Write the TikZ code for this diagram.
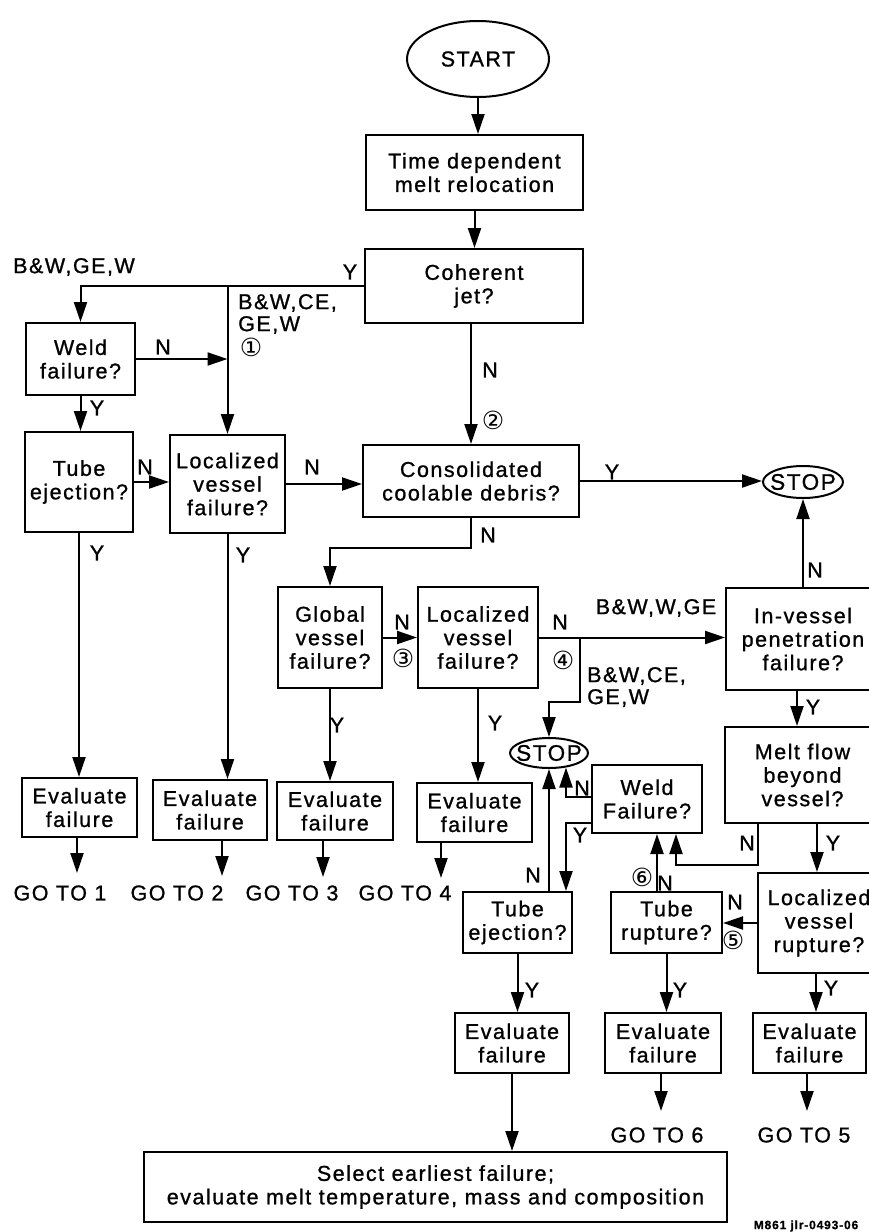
\documentclass[tikz,border=0pt]{standalone}
\usepackage{fontspec}
\setmainfont{Liberation Sans}[LetterSpace=7,FakeBold=1]
\newfontfamily\circfont{DejaVu Sans}
\usetikzlibrary{arrows.meta,shapes.geometric,calc}
\begin{document}
\begin{tikzpicture}[x=1pt,y=-1pt,
  every node/.style={font=\fontsize{21.5}{23.5}\selectfont, inner sep=0pt},
  box/.style={draw, rectangle, line width=2pt, align=center},
  term/.style={draw, ellipse, line width=2pt, inner sep=0pt},
  arr/.style={line width=2pt, -{Triangle[length=20pt,width=13pt]}},
  circ/.style={font=\circfont\fontsize{25}{25}\selectfont},
  tag/.style={font=\fontsize{12}{14}\selectfont\bfseries}
]
\fill[white] (0,0) rectangle (868,1232);
\useasboundingbox (0,0) rectangle (868,1232);

% ---------- nodes ----------
\node[term, minimum width=142pt, minimum height=76pt] (start) at (478,59) {START};
\node[box, minimum width=217pt, minimum height=75pt] (time) at (474.5,172.5) {Time dependent\\melt relocation};
\node[box, minimum width=218pt, minimum height=74pt] (coh) at (474,286) {Coherent\\jet?};
\node[box, minimum width=109pt, minimum height=72pt] (weld1) at (80.5,359) {Weld\\failure?};
\node[box, minimum width=108pt, minimum height=100pt] (tube1) at (79,482) {Tube\\ejection?};
\node[box, minimum width=115pt, minimum height=98pt] (loc1) at (227.5,484) {Localized\\vessel\\failure?};
\node[box, minimum width=216pt, minimum height=72pt] (cons) at (471,481) {Consolidated\\coolable debris?};
\node[term, minimum width=80pt, minimum height=32pt, font=\fontsize{22.5}{24}\selectfont] (stop1) at (803,482) {\makebox[0pt]{STOP}};
\node[box, minimum width=104pt, minimum height=101pt] (glob) at (330,637.5) {Global\\vessel\\failure?};
\node[box, minimum width=120pt, minimum height=101pt] (loc2) at (478,637.5) {Localized\\vessel\\failure?};
\node[box, minimum width=154pt, minimum height=102pt] (inv) at (803,639) {In-vessel\\penetration\\failure?};
\node[term, minimum width=78pt, minimum height=30pt, font=\fontsize{22.5}{24}\selectfont] (stop2) at (549,753) {\makebox[0pt]{STOP}};
\node[box, minimum width=155pt, minimum height=96pt] (melt) at (802.5,775) {Melt flow\\beyond\\vessel?};
\node[box, minimum width=110pt, minimum height=68pt] (weld2) at (647,799) {Weld\\Failure?};
\node[box, minimum width=109pt, minimum height=61pt] (tube2) at (517.5,922.5) {Tube\\ejection?};
\node[box, minimum width=111pt, minimum height=61pt] (trup) at (666.5,922.5) {Tube\\rupture?};
\node[box, minimum width=122pt, minimum height=100pt] (loc3) at (819,923) {Localized\\vessel\\rupture?};
\node[box, minimum width=115pt, minimum height=59pt] (ev1) at (79.5,807.5) {Evaluate\\failure};
\node[box, minimum width=114pt, minimum height=60pt] (ev2) at (210,810) {Evaluate\\failure};
\node[box, minimum width=116pt, minimum height=58pt] (ev3) at (335,811) {Evaluate\\failure};
\node[box, minimum width=115pt, minimum height=59pt] (ev4) at (474.5,812.5) {Evaluate\\failure};
\node[box, minimum width=114pt, minimum height=60pt] (ev5) at (512,1043) {Evaluate\\failure};
\node[box, minimum width=116pt, minimum height=60pt] (ev6) at (663,1043) {Evaluate\\failure};
\node[box, minimum width=113pt, minimum height=60pt] (ev7) at (809.5,1043) {Evaluate\\failure};
\node[box, minimum width=583pt, minimum height=70pt] (final) at (435.5,1187) {Select earliest failure;\\evaluate melt temperature, mass and composition};

\node (g1) at (60,893) {GO TO 1};
\node (g2) at (177,893) {GO TO 2};
\node (g3) at (292,893) {GO TO 3};
\node (g4) at (405,893) {GO TO 4};
\node (g6) at (657,1135) {GO TO 6};
\node (g5) at (804,1135) {GO TO 5};

% ---------- connectors ----------
\draw[arr] (start.south) -- (start.south |- time.north);
\draw[arr] (time.south) -- (time.south |- coh.north);
\draw[arr] (coh.west) -| (weld1.north);
\coordinate (j1) at (loc1.north |- coh.west);
\draw[arr] (j1) -- (loc1.north);
\draw[arr] (weld1.east) -- (weld1.east -| loc1.north);
\draw[arr] (weld1.south) -- (weld1.south |- tube1.north);
\draw[arr] (tube1.east) -- (tube1.east -| loc1.west);
\draw[arr] (loc1.east) -- (loc1.east -| cons.west);
\draw[arr] (cons.north |- coh.south) -- (cons.north);
\draw[arr] (cons.east) -- (cons.east -| stop1.west);
\draw[arr] (tube1.south) -- (tube1.south |- ev1.north);
\draw[arr] (loc1.south) -- (loc1.south |- ev2.north);
\draw[arr] (cons.south) -- ++(0,30) -| (glob.north);
\draw[arr] (glob.east) -- (loc2.west);
\draw[arr] (loc2.east) -- (loc2.east -| inv.west);
\coordinate (j4) at (580,637.5);
\coordinate (k4) at (580,702);
\draw[arr] (j4) -- (k4) -| (stop2.north);
\draw[arr] (glob.south) -- (glob.south |- ev3.north);
\draw[arr] (loc2.south) -- (loc2.south |- ev4.north);
\draw[arr] (stop1.south |- inv.north) -- (stop1.south);
\coordinate (iy) at ($(inv.south)+(-6,0)$);
\draw[arr] (iy) -- (iy |- melt.north);
\draw[arr] ($(melt.south west)+(34,0)$) -- ++(0,41) -| ($(weld2.south)+(29,0)$);
\draw[arr] ($(melt.south)+(14.5,0)$) -- ($(loc3.north)+(-2,0)$);
\draw[arr] (loc3.west) -- (loc3.west -| trup.east);
\draw[arr] ($(trup.north)+(-9.5,0)$) -- ($(weld2.south)+(10,0)$);
\draw[arr] (trup.south) -- (trup.south |- ev6.north);
\coordinate (ly) at ($(loc3.south)+(-3,0)$);
\draw[arr] (ly) -- (ly |- ev7.north);
\draw[arr] ($(weld2.west)+(0,-2)$) -| ($(stop2.south)+(17,-1.5)$);
\draw[arr] ($(weld2.west)+(0,24)$) -| ($(tube2.north)+(48.5,0)$);
\draw[arr] (stop2.south |- tube2.north) -- (stop2.south);
\draw[arr] (tube2.south) -- (tube2.south |- ev5.north);
\draw[arr] (ev5.south) -- (ev5.south |- final.north);
\draw[arr] ($(ev1.south)+(-2.5,0)$) -- ++(0,35);
\draw[arr] ($(ev2.south)+(12,0)$) -- ++(0,35);
\draw[arr] ($(ev3.south)+(-12,0)$) -- ++(0,36);
\draw[arr] ($(ev4.south)+(-33.5,0)$) -- ++(0,35);
\draw[arr] ($(ev6.south)+(-2,0)$) -- ++(0,37);
\draw[arr] ($(ev7.south)+(-2.5,0)$) -- ++(0,37);

% ---------- labels ----------
\node (t1) at (350,272) {Y};
\node[anchor=west] (t2) at (13,267) {B\&W,GE,W};
\node[anchor=west, align=left, font=\fontsize{21.5}{22}\selectfont] (t3) at (238,314) {B\&W,CE,\\GE,W};
\node[circ] (c1) at (251,347) {①};
\node (t4) at (163,347) {N};
\node (t5) at (97,408) {Y};
\node (t6) at (145,467) {N};
\node (t7) at (312,467) {N};
\node (t8) at (490,370) {N};
\node[circ] (c2) at (493,420) {②};
\node (t9) at (612,472) {Y};
\node (t10) at (488,535) {N};
\node (t11) at (97,553) {Y};
\node (t12) at (243,555) {Y};
\node (t13) at (402,622) {N};
\node[circ] (c3) at (403,658) {③};
\node (t14) at (560,622) {N};
\node[circ] (c4) at (563,660) {④};
\node (t15) at (656,608) {B\&W,W,GE};
\node[anchor=west, align=left, font=\fontsize{21.5}{22}\selectfont] (t16) at (587,687) {B\&W,CE,\\GE,W};
\node (t17) at (815,570) {N};
\node (t18) at (337,725) {Y};
\node (t19) at (495,723) {Y};
\node (t20) at (813,707) {Y};
\node (t21) at (582,788) {N};
\node (t22) at (580,835) {Y};
\node (t23) at (747,843) {N};
\node (t24) at (833,843) {Y};
\node (t25) at (533,875) {N};
\node[circ] (c6) at (642,877) {⑥};
\node (t26) at (665,883) {N};
\node (t27) at (735,902) {N};
\node[circ] (c5) at (733,940) {⑤};
\node (t28) at (532,990) {Y};
\node (t29) at (680,990) {Y};
\node (t30) at (831,988) {Y};
\node[tag] (t31) at (806,1226) {M861 jlr-0493-06};
\end{tikzpicture}
\end{document}
